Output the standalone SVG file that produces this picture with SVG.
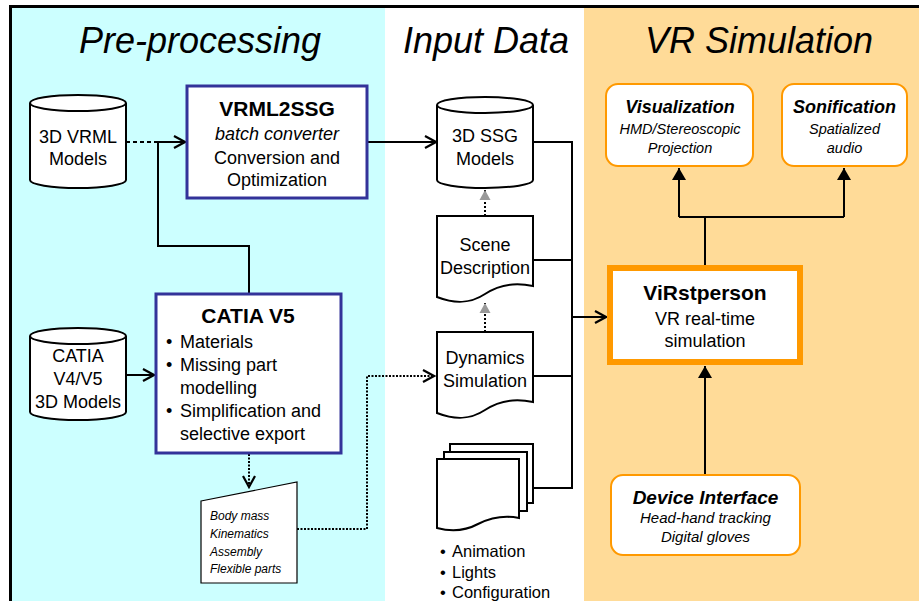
<svg xmlns="http://www.w3.org/2000/svg" width="919" height="601" viewBox="0 0 919 601">
<style>
text{font-family:"Liberation Sans",Arial,sans-serif;fill:#000}
.title{font-size:36px;font-style:italic;text-anchor:middle}
.t18{font-size:18px;text-anchor:middle}
.b21{font-size:21px;font-weight:bold;text-anchor:middle}
.i18{font-size:18px;font-style:italic;text-anchor:middle}
.bi18{font-size:18px;font-style:italic;font-weight:bold;text-anchor:middle}
.i14{font-size:14.5px;font-style:italic;text-anchor:middle}
.i15{font-size:15px;font-style:italic;text-anchor:middle}
.i12{font-size:12px;font-style:italic}
.bl{font-size:18px}
.bl16{font-size:16.5px}
.shape{fill:#fff;stroke:#000;stroke-width:2}
.navy{fill:#fff;stroke:#333399;stroke-width:3}
.orb{fill:#fff;stroke:#FF9900;stroke-width:2}
.conn path{fill:none;stroke:#000;stroke-width:2}
</style>
<defs>
<marker id="open" viewBox="-13 -8 15 16" refX="0" refY="0" markerWidth="15" markerHeight="16" markerUnits="userSpaceOnUse" orient="auto"><path d="M-11,-6 L0,0 L-11,6" fill="none" stroke="#000" stroke-width="2.2"/></marker>
<marker id="fill" viewBox="-13 -8 14 16" refX="0" refY="0" markerWidth="14" markerHeight="16" markerUnits="userSpaceOnUse" orient="auto"><path d="M0,0 L-12,-7 L-12,7Z" fill="#000"/></marker>
<marker id="gray" viewBox="-11 -7 12 14" refX="0" refY="0" markerWidth="12" markerHeight="14" markerUnits="userSpaceOnUse" orient="auto"><path d="M0,0 L-10,-5.5 L-10,5.5Z" fill="#999"/></marker>
</defs>
<rect x="0" y="0" width="919" height="601" fill="#fff"/>
<rect x="12" y="8" width="373" height="593" fill="#CCFFFF"/>
<rect x="385" y="8" width="199" height="593" fill="#fff"/>
<rect x="584" y="8" width="335" height="593" fill="#FFDB98"/>
<rect x="9" y="5" width="910" height="3" fill="#000"/>
<rect x="9" y="5" width="3" height="596" fill="#000"/>
<text class="title" x="200" y="53">Pre-processing</text>
<text class="title" x="486" y="53">Input Data</text>
<text class="title" x="759" y="53">VR Simulation</text>

<g class="conn">
<path d="M126,142 H158" stroke-dasharray="4,3"/>
<path d="M249,293 V246 H158 V142 H185" marker-end="url(#open)"/>
<path d="M368,142 H436" marker-end="url(#open)"/>
<path d="M126,375 H154" marker-end="url(#open)"/>
<path d="M249,454 V487" stroke-dasharray="2,1.5" stroke-width="2.5" marker-end="url(#open)"/>
<path d="M297,529 H367 V376 H434" stroke-dasharray="2,1.5" stroke-width="2.5" marker-end="url(#open)"/>
<path d="M533,142 H572 V488 H533"/>
<path d="M533,260 H572"/>
<path d="M533,376 H572"/>
<path d="M572,317 H606" marker-end="url(#open)"/>
<path d="M485,216 V190" stroke="#999" stroke-dasharray="2,2" marker-end="url(#gray)"/>
<path d="M485,332 V303" stroke="#999" stroke-dasharray="2,2" marker-end="url(#gray)"/>
<path d="M705,265 V217"/>
<path d="M679,217 H844"/>
<path d="M679,217 V168" marker-end="url(#fill)"/>
<path d="M844,217 V168" marker-end="url(#fill)"/>
<path d="M705,474 V366" marker-end="url(#fill)"/>
</g>

<g id="vrml-models">
<path class="shape" d="M30,103 A48,8 0 0 1 126,103 V180 A48,8 0 0 1 30,180 Z"/>
<path class="shape" d="M30,103 A48,8 0 0 0 126,103" fill="none"/>
<text class="t18" x="78" y="143">3D VRML</text>
<text class="t18" x="78" y="165">Models</text>
</g>

<g id="vrml2ssg">
<rect class="navy" x="187" y="86" width="180" height="112"/>
<text class="b21" x="277" y="116">VRML2SSG</text>
<text class="i18" x="277" y="140">batch converter</text>
<text class="t18" x="277" y="163.5">Conversion and</text>
<text class="t18" x="277" y="186">Optimization</text>
</g>

<g id="catia-models">
<path class="shape" d="M30,336 A48,8 0 0 1 126,336 V412 A48,8 0 0 1 30,412 Z"/>
<path class="shape" d="M30,336 A48,8 0 0 0 126,336" fill="none"/>
<text class="t18" x="78" y="362">CATIA</text>
<text class="t18" x="78" y="385">V4/V5</text>
<text class="t18" x="78" y="408">3D Models</text>
</g>

<g id="catia-v5">
<rect class="navy" x="156" y="294" width="185" height="159"/>
<text class="b21" x="248" y="323">CATIA V5</text>
<text class="bl" x="166" y="348">•<tspan x="180">Materials</tspan></text>
<text class="bl" x="166" y="371">•<tspan x="180">Missing part</tspan></text>
<text class="bl" x="180" y="394">modelling</text>
<text class="bl" x="166" y="417">•<tspan x="180">Simplification and</tspan></text>
<text class="bl" x="180" y="440">selective export</text>
</g>

<g id="properties">
<polygon points="201,501 297,482 297,583 201,583" fill="#fff" stroke="#000" stroke-width="1.2"/>
<text class="i12" x="210" y="520">Body mass</text>
<text class="i12" x="210" y="538">Kinematics</text>
<text class="i12" x="210" y="555.5">Assembly</text>
<text class="i12" x="210" y="573">Flexible parts</text>
</g>

<g id="ssg-models">
<path class="shape" d="M437,105 A48,8 0 0 1 533,105 V180 A48,8 0 0 1 437,180 Z"/>
<path class="shape" d="M437,105 A48,8 0 0 0 533,105" fill="none"/>
<text class="t18" x="485" y="142">3D SSG</text>
<text class="t18" x="485" y="165">Models</text>
</g>

<g id="scene">
<path class="shape" d="M437,216 H533 V286 C515,282 500,284 485,294 C470,304 455,304 437,297 Z"/>
<text class="t18" x="485" y="251">Scene</text>
<text class="t18" x="485" y="274">Description</text>
</g>

<g id="dynamics">
<path class="shape" d="M437,332 H533 V402 C515,398 500,400 485,410 C470,420 455,420 437,413 Z"/>
<text class="t18" x="485" y="364">Dynamics</text>
<text class="t18" x="485" y="387">Simulation</text>
</g>

<g id="config-docs">
<rect class="shape" x="450" y="444" width="83" height="59"/>
<rect class="shape" x="444" y="452" width="83" height="59"/>
<path class="shape" d="M437,459 H519 V518 C504,515 492,517 478,524 C465,531 452,532 437,528 Z"/>
<text class="bl16" x="440" y="557">•<tspan x="452">Animation</tspan></text>
<text class="bl16" x="440" y="578">•<tspan x="452">Lights</tspan></text>
<text class="bl16" x="440" y="598">•<tspan x="452">Configuration</tspan></text>
</g>

<g id="visualization">
<rect class="orb" x="606" y="84" width="147" height="82" rx="12"/>
<text class="bi18" x="680" y="113">Visualization</text>
<text class="i14" x="680" y="133.5">HMD/Stereoscopic</text>
<text class="i14" x="680" y="153">Projection</text>
</g>

<g id="sonification">
<rect class="orb" x="782" y="84" width="125" height="82" rx="12"/>
<text class="bi18" x="844.5" y="113">Sonification</text>
<text class="i14" x="844.5" y="133.5">Spatialized</text>
<text class="i14" x="844.5" y="153">audio</text>
</g>

<g id="virstperson">
<rect x="610" y="268" width="190" height="94" fill="#fff" stroke="#FF9900" stroke-width="6"/>
<text class="b21" x="705" y="300">ViRstperson</text>
<text class="t18" x="705" y="325">VR real-time</text>
<text class="t18" x="705" y="347">simulation</text>
</g>

<g id="device-interface">
<rect class="orb" x="611" y="475" width="189" height="80" rx="12"/>
<text class="bi18" x="705.5" y="504" style="font-size:19px">Device Interface</text>
<text class="i15" x="705.5" y="523">Head-hand tracking</text>
<text class="i15" x="705.5" y="542">Digital gloves</text>
</g>
</svg>
